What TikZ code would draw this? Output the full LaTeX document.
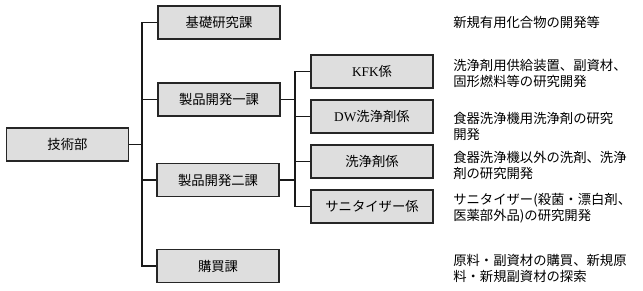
\documentclass[tikz,border=0pt]{standalone}
\usepackage{fontspec}
\setmainfont{Liberation Serif}
\newfontfamily\cjk{Noto Sans CJK JP}
\newfontfamily\lat{Liberation Serif}
\tikzset{
    unitbox/.style={draw=black!85, line width=1.1pt, fill=black!13, minimum width=91.5pt, minimum height=24.75pt, inner sep=0pt, font=\cjk\fontsize{10}{12}\selectfont},
    dutytext/.style={anchor=west, align=left, inner sep=0pt, font=\cjk\fontsize{10}{12}\selectfont},
    link/.style={line width=1.1pt, black!90}
}
\begin{document}
\begin{tikzpicture}[x=0.75pt, y=-0.75pt]
    \useasboundingbox (0, 0) rectangle (643, 290);

    % Department and sections
    \node[unitbox] (gijutsu) at (67.5, 144.5) {技術部};
    \node[unitbox] (kiso) at (219, 22.5) {基礎研究課};
    \node[unitbox] (seihin1) at (219, 99.5) {製品開発一課};
    \node[unitbox] (seihin2) at (218, 180) {製品開発二課};
    \node[unitbox] (kobai) at (218, 266) {購買課};

    % Groups
    \node[unitbox] (kfk) at (372, 71.5) {{\lat KFK}係};
    \node[unitbox] (dw) at (372, 116.5) {{\lat DW}洗浄剤係};
    \node[unitbox] (senjo) at (372, 161.5) {洗浄剤係};
    \node[unitbox] (sani) at (372, 206.5) {サニタイザー係};

    % Trunk lines
    \coordinate (trunk) at (142, 144.5);
    \coordinate (subtrunk) at (295, 100);
    \draw[link] (gijutsu.east) -- (trunk);
    \draw[link] (kiso.west) -| (trunk) |- (kobai.west);
    \draw[link] (seihin1.west) -- (seihin1.west -| trunk);
    \draw[link] (seihin2.west) -- (seihin2.west -| trunk);

    % Sub-trunk lines
    \draw[link] (seihin1.east) -- (seihin1.east -| subtrunk);
    \draw[link] (kfk.west) -| (subtrunk) |- (dw.west);
    \draw[link] (seihin2.east) -- (seihin2.east -| subtrunk);
    \draw[link] (senjo.west) -| (subtrunk) |- (sani.west);

    % Duties
    \node[dutytext] (t-kiso) at (453, 22) {新規有用化合物の開発等};
    \node[dutytext] (t-kfk) at (453, 73.5) {洗浄剤用供給装置、副資材、\\固形燃料等の研究開発};
    \node[dutytext] (t-dw) at (453, 126) {食器洗浄機用洗浄剤の研究\\開発};
    \node[dutytext] (t-senjo) at (453, 165) {食器洗浄機以外の洗剤、洗浄\\剤の研究開発};
    \node[dutytext] (t-sani) at (453, 208.5) {サニタイザー(殺菌・漂白剤、\\医薬部外品)の研究開発};
    \node[dutytext] (t-kobai) at (453, 268.5) {原料・副資材の購買、新規原\\料・新規副資材の探索};
\end{tikzpicture}
\end{document}
